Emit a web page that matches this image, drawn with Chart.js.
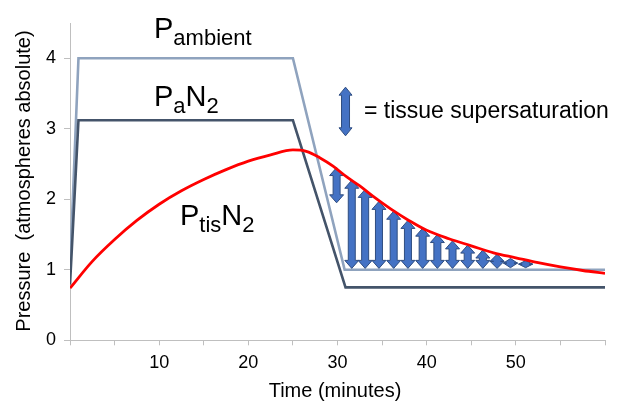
<!DOCTYPE html>
<html>
<head>
<meta charset="utf-8">
<script src="https://cdn.jsdelivr.net/npm/chart.js@4/dist/chart.umd.min.js"></script>
<style>
  html, body { margin: 0; padding: 0; background: #fff; }
  #c { display: block; }
</style>
</head>
<body>
<canvas id="c" width="638" height="403"></canvas>
<script>
// pressures in atmospheres absolute, time in minutes
var ambientTime = [0, 0.95, 25, 30.8, 60];
var ambientVal  = [1.0, 4.0, 4.0, 1.0, 1.0];

var arterialTime = [0, 0.95, 25, 30.9, 60];
var arterialVal  = [0.79, 3.12, 3.12, 0.75, 0.75];

var tissueTime = [0, 2.5, 5, 7.5, 10, 12.5, 15, 17.5, 20, 22.5, 25, 26.5, 28, 29.5, 31, 32.5, 34, 36, 38, 40, 42.5, 45, 47.5, 50, 52.5, 55, 57.5, 60];
var tissueVal  = [0.74, 1.12, 1.43, 1.70, 1.93, 2.12, 2.28, 2.42, 2.54, 2.63, 2.70, 2.68, 2.59, 2.47, 2.32, 2.19, 2.04, 1.86, 1.70, 1.56, 1.44, 1.34, 1.24, 1.17, 1.10, 1.04, 0.99, 0.95];

// supersaturation arrows (tissue above ambient)
var arrowTime = [29.9, 31.6, 33.1, 34.65, 36.3, 37.9, 39.55, 41.2, 42.9, 44.6, 46.3, 47.9, 49.4, 51.1];
var arrowTop  = [2.45, 2.27, 2.14, 1.97, 1.83, 1.70, 1.59, 1.50, 1.41, 1.35, 1.28, 1.22, 1.16, 1.13];
var arrowLow  = [1.95, 1.02, 1.02, 1.02, 1.02, 1.02, 1.02, 1.02, 1.02, 1.02, 1.02, 1.02, 1.03, 1.03];

var keyArrow = { time: 30.9, top: 3.59, low: 2.90 };

var xTicksShown = [10, 20, 30, 40, 50];

function pts(xs, ys) {
	var out = [];
	for (var i in xs) out.push({ x: xs[i], y: ys[i] });
	return out;
}

function arrow(ctx, xc, yTop, yBot, halfHead, halfShaft, headLen) {
	var hl = Math.min(headLen, (yBot - yTop) / 2);
	ctx.beginPath();
	ctx.moveTo(xc, yTop);
	ctx.lineTo(xc + halfHead, yTop + hl);
	ctx.lineTo(xc + halfShaft, yTop + hl);
	ctx.lineTo(xc + halfShaft, yBot - hl);
	ctx.lineTo(xc + halfHead, yBot - hl);
	ctx.lineTo(xc, yBot);
	ctx.lineTo(xc - halfHead, yBot - hl);
	ctx.lineTo(xc - halfShaft, yBot - hl);
	ctx.lineTo(xc - halfShaft, yTop + hl);
	ctx.lineTo(xc - halfHead, yTop + hl);
	ctx.closePath();
	ctx.fillStyle = '#4472C4';
	ctx.fill();
	ctx.lineWidth = 1;
	ctx.strokeStyle = '#2F4D80';
	ctx.stroke();
}

// P + subscript pieces, drawn one after the other
function subLabel(ctx, x, y, parts) {
	ctx.fillStyle = '#000';
	ctx.textBaseline = 'alphabetic';
	ctx.textAlign = 'left';
	for (var i in parts) {
		var p = parts[i];
		ctx.font = (p.sub ? '22px' : '29px') + ' "Liberation Sans", Arial, sans-serif';
		ctx.fillText(p.t, x, p.sub ? y + 7 : y);
		x += ctx.measureText(p.t).width;
	}
}

var arrowPlugin = {
	id: 'arrows',
	afterDatasetDraw: function(chart, args) {
		if (args.index !== 1) return;
		var ctx = chart.ctx, xs = chart.scales.x, ys = chart.scales.y;
		ctx.save();
		for (var i in arrowTime) {
			arrow(ctx, xs.getPixelForValue(arrowTime[i]), ys.getPixelForValue(arrowTop[i]),
				ys.getPixelForValue(arrowLow[i]), 7, 3.5, 8);
		}
		ctx.restore();
	}
};

var textPlugin = {
	id: 'texts',
	afterDraw: function(chart) {
		var ctx = chart.ctx, xs = chart.scales.x, ys = chart.scales.y;
		ctx.save();
		subLabel(ctx, 154, 38, [{ t: 'P' }, { t: 'ambient', sub: true }]);
		subLabel(ctx, 154, 106, [{ t: 'P' }, { t: 'a', sub: true }, { t: 'N' }, { t: '2', sub: true }]);
		subLabel(ctx, 180, 225, [{ t: 'P' }, { t: 'tis', sub: true }, { t: 'N' }, { t: '2', sub: true }]);

		arrow(ctx, xs.getPixelForValue(keyArrow.time), ys.getPixelForValue(keyArrow.top),
			ys.getPixelForValue(keyArrow.low), 6.5, 4, 8);
		ctx.fillStyle = '#000';
		ctx.font = '23px "Liberation Sans", Arial, sans-serif';
		ctx.textAlign = 'left';
		ctx.fillText('= tissue supersaturation', 364, 118);

		ctx.font = '20px "Liberation Sans", Arial, sans-serif';
		ctx.textAlign = 'center';
		ctx.fillText('Time (minutes)', 335, 397);

		ctx.translate(24, 181);
		ctx.rotate(-Math.PI / 2);
		ctx.font = '20px "Liberation Sans", Arial, sans-serif';
		ctx.textBaseline = 'middle';
		ctx.fillText('Pressure  (atmospheres absolute)', 0, 0);
		ctx.restore();
	}
};

var chartdata = {
	datasets: [
		{
			label: 'PtisN2',
			data: pts(tissueTime, tissueVal),
			borderColor: '#FF0000',
			borderWidth: 2.8,
			cubicInterpolationMode: 'monotone',
			pointRadius: 0
		},
		{
			label: 'PaN2',
			data: pts(arterialTime, arterialVal),
			borderColor: '#44546A',
			borderWidth: 2.6,
			pointRadius: 0
		},
		{
			label: 'Pambient',
			data: pts(ambientTime, ambientVal),
			borderColor: '#8FA3BE',
			borderWidth: 2.6,
			pointRadius: 0
		}
	]
};

var ctx = document.getElementById('c');

var lineGraph = new Chart(ctx, {
	type: 'line',
	data: chartdata,
	plugins: [arrowPlugin, textPlugin],
	options: {
		responsive: false,
		animation: false,
		layout: { padding: { top: 23, right: 33, left: 0, bottom: 0 } },
		plugins: { legend: { display: false }, tooltip: { enabled: false } },
		scales: {
			x: {
				type: 'linear',
				min: 0,
				max: 60,
				afterFit: function(s) { s.height = 62.7; },
				border: { color: '#BFBFBF', width: 1 },
				grid: { drawOnChartArea: false, drawTicks: true, tickLength: 5, color: '#BFBFBF' },
				ticks: {
					stepSize: 5,
					autoSkip: false,
					maxRotation: 0,
					padding: 7,
					color: '#000',
					font: { family: '"Liberation Sans", Arial, sans-serif', size: 18 },
					callback: function(v) { return xTicksShown.indexOf(v) >= 0 ? String(v) : ''; }
				}
			},
			y: {
				min: 0,
				max: 4.5,
				afterFit: function(s) { s.width = 70; },
				border: { color: '#BFBFBF', width: 1 },
				grid: { drawOnChartArea: false, drawTicks: true, tickLength: 6, color: '#BFBFBF' },
				ticks: {
					stepSize: 1,
					includeBounds: false,
					padding: 8,
					color: '#000',
					font: { family: '"Liberation Sans", Arial, sans-serif', size: 18 }
				}
			}
		}
	}
});
</script>
</body>
</html>
